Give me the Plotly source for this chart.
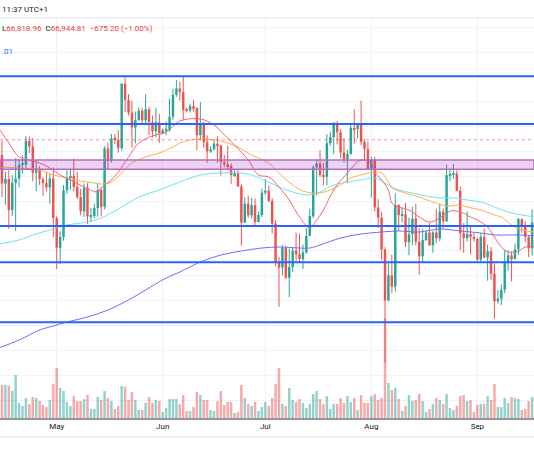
import pandas as pd
import plotly.graph_objects as go

# ---------------- data ----------------
DATES = pd.date_range("2024-04-14", "2024-09-18", freq="D")

OPEN = [63900, 65740, 63420, 63790, 61280, 63470, 63820, 64940, 64940, 66840, 66410, 64290, 64500, 63770, 63460, 63120, 63840,
        60640, 58250, 59120, 62880, 63890, 64030, 63160, 62330, 61190, 63070, 60790, 60800, 61450, 62900, 61550, 66250, 65230, 67050, 66930, 66270, 71450, 70140, 69120, 67930, 68530, 69290, 68510, 69390, 68360, 67630, 68350,
        67490, 67710, 67750, 68800, 70560, 71080, 70790, 69340, 69300, 69650, 69500, 67320, 68240, 66750, 66010, 66190, 66640, 66490, 65140, 64960, 64830, 64100, 64250, 63180, 60280, 61800, 60860, 61680, 60320, 60890,
        62680, 62850, 62030, 60200, 57040, 56660, 58240, 55850, 56700, 58030, 57720, 57340, 57890, 59200, 60800, 64720, 65040, 64090, 63970, 66660, 67150, 68180, 67550, 65920, 65370, 65790, 67910, 67810, 68250, 66780, 66190,
        64620, 65350, 61500, 60680, 58110, 54020, 56030, 55130, 61700, 60880, 60940, 58710, 59350, 60600, 58740, 57560, 58870, 59480, 58440, 59490, 59010, 61160, 60380, 64090, 64160, 64220, 62830, 59420, 59030, 59360, 59120,
        58970, 57300, 59130, 57480, 57970, 56160, 53950, 54160, 54870, 57050, 57640, 57340, 58130, 60570, 60000, 59130, 58210, 60310]

HIGH = [65830, 66870, 64360, 64480, 64110, 65480, 65400, 65680, 67230, 67200, 67080, 65280, 64800, 63920, 64360, 64210, 64720,
        60780, 59580, 63300, 64480, 64530, 65450, 64370, 62980, 63420, 63450, 61470, 61810, 63420, 63100, 66430, 66700, 67420, 67400, 67700, 71500, 71950, 70620, 70080, 69220, 69550, 69500, 70600, 69560, 68900, 69500, 69020,
        67860, 68420, 70230, 71050, 71760, 71620, 71997, 69550, 69860, 70150, 69560, 69980, 68380, 67300, 66440, 66960, 67230, 66500, 65710, 66460, 65050, 64520, 64490, 63360, 62320, 62450, 62270, 62200, 61180, 63020,
        63790, 63260, 62250, 60480, 57500, 58460, 58400, 58200, 58280, 59470, 59400, 58520, 59840, 61400, 64870, 65360, 66100, 65120, 67390, 67600, 68380, 68470, 67790, 67090, 66130, 68200, 69400, 68300, 70080, 66980, 66800,
        65600, 65580, 62160, 61100, 58300, 57040, 57700, 62650, 61740, 61460, 61860, 60680, 61570, 61800, 59850, 59800, 59650, 60270, 59600, 61400, 61800, 61400, 64950, 64500, 65000, 64480, 63200, 60230, 61170, 59930, 59450,
        59060, 59400, 59800, 58500, 58300, 56990, 54850, 55300, 58080, 58040, 57980, 58600, 60650, 60600, 60380, 59200, 61350, 61780]

LOW = [62200, 62330, 61720, 59770, 60820, 59600, 63100, 64250, 64540, 65870, 63600, 62800, 63300, 62440, 62800, 61800, 59120,
       56550, 56950, 58820, 62590, 62920, 62800, 62200, 60880, 60740, 60150, 60320, 60650, 60750, 60780, 61330, 64600, 65110, 66600, 65900, 66070, 69180, 68900, 66300, 66650, 68470, 68250, 68250, 67300, 67120, 67140, 66700,
       67390, 67300, 67600, 68550, 70390, 70120, 68500, 69150, 69130, 69240, 66100, 66900, 66300, 65100, 65900, 66050, 65080, 64060, 64720, 64550, 63400, 63950, 63180, 58420, 60250, 60670, 60600, 60060, 60300, 60720,
       62520, 61900, 59420, 56770, 53500, 56050, 55740, 54280, 56300, 57200, 57050, 56550, 57770, 59200, 60630, 62460, 63950, 63280, 63300, 66470, 65790, 66570, 65450, 65100, 63450, 65750, 66650, 67050, 66500, 65300, 64520,
       62280, 61200, 59850, 57240, 49000, 53950, 54600, 54730, 59600, 60280, 58310, 57650, 58470, 58450, 56100, 57100, 58800, 58440, 57850, 58600, 58780, 59800, 60350, 63600, 63800, 62800, 58050, 57850, 58750, 57720, 58750,
       57200, 57130, 57420, 55600, 55650, 52550, 53750, 53650, 54600, 56400, 55550, 57330, 57650, 59450, 58700, 57500, 57630, 59200]

CLOSE = [65740, 63420, 63790, 61280, 63470, 63820, 64940, 64940, 66840, 66410, 64290, 64500, 63770, 63460, 63120, 63840, 60640,
         58250, 59120, 62880, 63890, 64030, 63160, 62330, 61190, 63070, 60790, 60800, 61450, 62900, 61550, 66250, 65230, 67050, 66930, 66270, 71450, 70140, 69120, 67930, 68530, 69290, 68510, 69390, 68360, 67630, 68350, 67490,
         67710, 67750, 68800, 70560, 71080, 70790, 69340, 69300, 69650, 69500, 67320, 68240, 66750, 66010, 66190, 66640, 66490, 65140, 64960, 64830, 64100, 64250, 63180, 60280, 61800, 60860, 61680, 60320, 60890, 62680,
         62850, 62030, 60200, 57040, 56660, 58240, 55850, 56700, 58030, 57720, 57340, 57890, 59200, 60800, 64720, 65040, 64090, 63970, 66660, 67150, 68180, 67550, 65920, 65370, 65790, 67910, 67810, 68250, 66780, 66190, 64620,
         65350, 61500, 60680, 58110, 54020, 56030, 55130, 61700, 60880, 60940, 58710, 59350, 60600, 58740, 57560, 58870, 59480, 58440, 59490, 59010, 61160, 60380, 64090, 64160, 64220, 62830, 59420, 59030, 59360, 59120, 58970,
         57300, 59130, 57480, 57970, 56160, 53950, 54160, 54870, 57050, 57640, 57340, 58130, 60570, 60000, 59130, 58210, 60310, 61760]

VOLUME = [28, 33, 33, 32, 27, 43, 15, 12, 20, 14, 21, 20, 17, 13, 11, 18, 34,
          50, 30, 27, 16, 12, 22, 17, 17, 19, 23, 9, 9, 21, 18, 27, 20, 17, 9, 12, 32, 31, 18, 26, 18, 8, 8, 15, 21, 15, 18, 17,
          6, 10, 19, 19, 19, 14, 23, 7, 7, 11, 26, 23, 18, 18, 8, 7, 17, 27, 13, 16, 16, 5, 6, 33, 20, 14, 12, 16, 7, 11,
          16, 12, 20, 34, 50, 14, 12, 30, 18, 16, 19, 15, 10, 14, 24, 27, 19, 14, 22, 9, 14, 14, 20, 15, 22, 16, 20, 8, 23, 15, 15,
          22, 24, 18, 20, 100, 35, 28, 30, 19, 7, 12, 23, 17, 18, 24, 17, 6, 9, 14, 20, 18, 14, 24, 10, 8, 12, 22, 23, 17, 18, 6,
          13, 14, 14, 22, 18, 34, 11, 11, 20, 15, 21, 20, 19, 8, 9, 17, 21, 20]

# moving averages
MA_RED_DATES = ["2024-04-14", "2024-04-17", "2024-04-20", "2024-04-23", "2024-04-26", "2024-04-29", "2024-05-02", "2024-05-05",
                "2024-05-09", "2024-05-13", "2024-05-14", "2024-05-17", "2024-05-19", "2024-05-22", "2024-05-25", "2024-05-29",
                "2024-06-02", "2024-06-06", "2024-06-12", "2024-06-16", "2024-06-19", "2024-06-22", "2024-06-26", "2024-06-29",
                "2024-07-02", "2024-07-05", "2024-07-08", "2024-07-11", "2024-07-14", "2024-07-16", "2024-07-18", "2024-07-21",
                "2024-07-25", "2024-07-29", "2024-08-01", "2024-08-02", "2024-08-04", "2024-08-06", "2024-08-07", "2024-08-09",
                "2024-08-12", "2024-08-15", "2024-08-18", "2024-08-21", "2024-08-24", "2024-08-27", "2024-08-30", "2024-09-01",
                "2024-09-04", "2024-09-06", "2024-09-08", "2024-09-10", "2024-09-13", "2024-09-15", "2024-09-18"]
MA_RED = [67892, 66685, 65558, 65316, 65075, 64672, 64109, 63706,
          63143, 62741, 63063, 63706, 64350, 65558, 66685, 67248,
          67570, 68456, 68616, 68133, 67329, 66524, 65316, 64109,
          63948, 63143, 62097, 60728, 59843, 60487, 61292, 62902,
          64270, 65316, 65075, 64350, 63706, 62902, 61855, 61533,
          61292, 60728, 60326, 60648, 61211, 61131, 60728, 60487,
          59924, 59119, 58314, 57911, 57992, 58314, 58314]

MA_ORANGE_DATES = ["2024-04-14", "2024-04-20", "2024-04-26", "2024-04-30", "2024-05-04", "2024-05-08", "2024-05-12", "2024-05-14",
                   "2024-05-17", "2024-05-20", "2024-05-23", "2024-05-27", "2024-05-31", "2024-06-04", "2024-06-06", "2024-06-09",
                   "2024-06-12", "2024-06-16", "2024-06-19", "2024-06-23", "2024-06-27", "2024-07-02", "2024-07-05", "2024-07-09",
                   "2024-07-12", "2024-07-15", "2024-07-17", "2024-07-20", "2024-07-23", "2024-07-26", "2024-07-29", "2024-08-02",
                   "2024-08-04", "2024-08-06", "2024-08-07", "2024-08-11", "2024-08-15", "2024-08-19", "2024-08-23", "2024-08-27",
                   "2024-08-29", "2024-09-02", "2024-09-06", "2024-09-08", "2024-09-11", "2024-09-14", "2024-09-18"]
MA_ORANGE = [64753, 64672, 64511, 64109, 63867, 63626, 63465, 63384,
             63545, 64270, 65075, 65558, 65880, 66363, 66685, 66926,
             67007, 66926, 66766, 66363, 65719, 65075, 64270, 63304,
             62821, 62660, 62660, 62902, 63304, 63867, 64109, 64350,
             64270, 63545, 63063, 62660, 62338, 61936, 61614, 61694,
             61533, 61292, 60889, 60728, 60085, 59682, 59521]

MA_CYAN_DATES = ["2024-04-14", "2024-04-20", "2024-04-24", "2024-04-29", "2024-05-04", "2024-05-10", "2024-05-14", "2024-05-20",
                 "2024-05-25", "2024-05-31", "2024-06-06", "2024-06-12", "2024-06-18", "2024-06-24", "2024-06-27", "2024-07-02",
                 "2024-07-05", "2024-07-09", "2024-07-13", "2024-07-15", "2024-07-17", "2024-07-21", "2024-07-25", "2024-07-29",
                 "2024-08-02", "2024-08-06", "2024-08-09", "2024-08-13", "2024-08-17", "2024-08-21", "2024-08-25", "2024-08-29",
                 "2024-09-02", "2024-09-06", "2024-09-10", "2024-09-14", "2024-09-18"]
MA_CYAN = [58555, 58877, 59280, 59682, 60085, 60326, 60648, 61533,
           62338, 62902, 63545, 64109, 64270, 64270, 64109, 63545,
           63143, 62741, 62499, 62580, 62741, 63304, 63545, 63706,
           63867, 63304, 62902, 62660, 62419, 62258, 62258, 62097,
           61936, 61533, 61131, 60889, 60728]

MA_BLUE_DATES = ["2024-04-14", "2024-04-20", "2024-04-26", "2024-04-30", "2024-05-04", "2024-05-10", "2024-05-16", "2024-05-22",
                 "2024-05-27", "2024-06-02", "2024-06-06", "2024-06-12", "2024-06-18", "2024-06-24", "2024-06-30", "2024-07-05",
                 "2024-07-11", "2024-07-14", "2024-07-17", "2024-07-23", "2024-07-29", "2024-08-04", "2024-08-09", "2024-08-15",
                 "2024-08-21", "2024-08-27", "2024-09-02", "2024-09-06", "2024-09-10", "2024-09-14", "2024-09-18"]
MA_BLUE = [50184, 50828, 51633, 51955, 52277, 52680, 53243, 54048,
           54853, 55819, 56302, 57107, 57670, 57992, 58233, 58314,
           58233, 58233, 58475, 59038, 59360, 59521, 59602, 59521,
           59763, 59602, 59441, 59280, 59280, 59280, 59199]

LEVELS = [72060, 68210, 60000, 57090, 52260]
ZONE = [64580, 65320]
LAST_PRICE = 66944.81

MONTH_TICKS = ["2024-05-01", "2024-06-01", "2024-07-01", "2024-08-01", "2024-09-01"]
MONTH_LABELS = ["May", "Jun", "Jul", "Aug", "Sep"]

UP = "#26a69a"
DOWN = "#ef5350"
FONT = "Roboto"

# ---------------- figure ----------------
fig = go.Figure()

up_idx = [i for i in range(len(CLOSE)) if CLOSE[i] >= OPEN[i]]
dn_idx = [i for i in range(len(CLOSE)) if CLOSE[i] < OPEN[i]]
DAY_MS = 86400000

for idx, col, vcol in [(up_idx, UP, "rgba(38,166,154,0.5)"), (dn_idx, DOWN, "rgba(239,83,80,0.5)")]:
    fig.add_trace(go.Bar(x=[DATES[i] for i in idx], y=[VOLUME[i] for i in idx],
                         marker=dict(color=vcol, line=dict(width=0)), width=0.72 * DAY_MS,
                         yaxis="y", hoverinfo="skip", showlegend=False))

for idx, col in [(up_idx, UP), (dn_idx, DOWN)]:
    wx, wy = [], []
    for i in idx:
        wx += [DATES[i], DATES[i], None]
        wy += [LOW[i], HIGH[i], None]
    fig.add_trace(go.Scatter(x=wx, y=wy, mode="lines", line=dict(color=col, width=1),
                             yaxis="y2", hoverinfo="skip", showlegend=False))
    fig.add_trace(go.Bar(x=[DATES[i] for i in idx],
                         y=[max(abs(CLOSE[i] - OPEN[i]), 60) for i in idx],
                         base=[min(OPEN[i], CLOSE[i]) for i in idx],
                         marker=dict(color=col, line=dict(width=0)), width=0.72 * DAY_MS,
                         yaxis="y2", hoverinfo="skip", showlegend=False))

for d, v, col in [(MA_BLUE_DATES, MA_BLUE, "#6f6cf7"), (MA_CYAN_DATES, MA_CYAN, "#6fe3ee"),
                  (MA_ORANGE_DATES, MA_ORANGE, "#ffab57"), (MA_RED_DATES, MA_RED, "#f5646f")]:
    fig.add_trace(go.Scatter(x=d, y=v, mode="lines", line=dict(color=col, width=1, shape="spline", smoothing=1.0),
                             yaxis="y2", hoverinfo="skip", showlegend=False))

shapes = []
shapes.append(dict(type="rect", xref="paper", x0=0, x1=1, yref="y2", y0=ZONE[0], y1=ZONE[1],
                   fillcolor="rgba(156,39,176,0.2)", line=dict(color="#ba68c8", width=1.5)))
for lv in LEVELS:
    shapes.append(dict(type="line", xref="paper", x0=0, x1=1, yref="y2", y0=lv, y1=lv,
                       line=dict(color="#2962ff", width=2)))
shapes.append(dict(type="line", xref="paper", x0=0, x1=1, yref="y2", y0=LAST_PRICE, y1=LAST_PRICE,
                   line=dict(color="rgba(242,54,69,0.55)", width=1, dash="dot")))
shapes.append(dict(type="line", xref="paper", x0=0, x1=1, yref="paper", y0=1, y1=1,
                   line=dict(color="#e0e3eb", width=1)))
shapes.append(dict(type="line", xref="paper", x0=0, x1=1, yref="paper", y0=-0.0475, y1=-0.0475,
                   line=dict(color="#e0e3eb", width=1)))

annotations = [
    dict(xref="paper", yref="paper", x=0, y=1.021, xanchor="left", yanchor="middle", showarrow=False,
         text="11:37 UTC+1", font=dict(family=FONT, size=8, color="#131722")),
    dict(xref="paper", yref="paper", x=0, y=0.975, xanchor="left", yanchor="middle", showarrow=False,
         text=('<span style="color:#131722">L</span><span style="color:#f23645">66,818.96</span>'
               '&nbsp;&nbsp;<span style="color:#131722">C</span><span style="color:#f23645">66,944.81</span>'
               '&nbsp;&nbsp;<span style="color:#f23645">−675.20 (−1.00%)</span>'),
         font=dict(family=FONT, size=8, color="#f23645")),
    dict(xref="paper", yref="paper", x=0, y=0.915, xanchor="left", yanchor="middle", showarrow=False,
         text=".01", font=dict(family=FONT, size=8, color="#2962ff")),
]

fig.update_layout(
    width=534, height=462,
    margin=dict(l=0, r=0, t=18, b=44),
    paper_bgcolor="white", plot_bgcolor="white",
    barmode="overlay",
    showlegend=False,
    xaxis=dict(type="date", range=["2024-04-14 10:06", "2024-09-17 13:30"],
               tickvals=MONTH_TICKS, ticktext=MONTH_LABELS, ticks="",
               tickfont=dict(family=FONT, size=8, color="#131722"),
               showgrid=True, gridcolor="#eef1f6", gridwidth=1,
               showline=True, linecolor="#9598a1", linewidth=1.5, zeroline=False),
    yaxis=dict(range=[0, 400], visible=False, fixedrange=True),
    yaxis2=dict(overlaying="y", side="right", range=[44552, 76745],
                tickvals=list(range(46000, 78000, 2000)), showticklabels=False, ticks="",
                showgrid=True, gridcolor="#f0f3fa", gridwidth=1, zeroline=False, showline=False),
    shapes=shapes,
    annotations=annotations,
)

fig.write_html("out.html")
